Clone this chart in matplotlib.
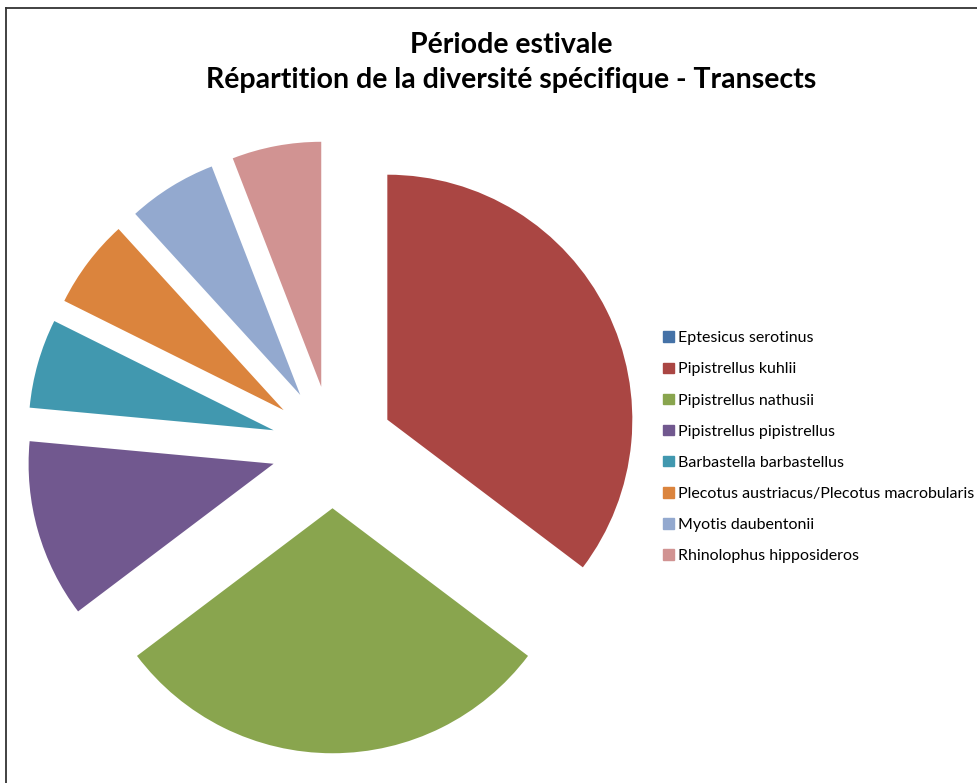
import matplotlib.pyplot as plt
from matplotlib.lines import Line2D

# Species and number of contacts
species = ['Eptesicus serotinus', 'Pipistrellus kuhlii', 'Pipistrellus nathusii',
           'Pipistrellus pipistrellus', 'Barbastella barbastellus',
           'Plecotus austriacus/Plecotus macrobularis', 'Myotis daubentonii',
           'Rhinolophus hipposideros']
counts = [0, 6, 5, 2, 1, 1, 1, 1]
colors = ['#4572A7', '#AA4643', '#89A54E', '#71588F', '#4198AF',
          '#DB843D', '#93A9CF', '#D19392']

W, H = 978, 783
fig = plt.figure(figsize=(W/100, H/100), dpi=100)

# pie axes: centre at (332.5, 447) px, radius 245 px
scale = 245.0
lim = 1.36
side = 2*lim*scale
cx, cy = 332.5, H - 447
ax = fig.add_axes([(cx - side/2)/W, (cy - side/2)/H, side/W, side/H])
wedges, _ = ax.pie(counts, colors=colors, startangle=90, counterclock=False,
                   explode=[0.25]*len(counts), radius=1.0,
                   wedgeprops=dict(linewidth=0))
ax.set_xlim(-lim, lim)
ax.set_ylim(-lim, lim)
ax.set_aspect('auto')
ax.axis('off')

# title
fig.text(511/W, 1 - 45/H, 'Période estivale', ha='center', va='center',
         fontsize=20.5, fontweight='bold', family='Lato')
fig.text(511/W, 1 - 80/H, 'Répartition de la diversité spécifique - Transects',
         ha='center', va='center', fontsize=20.5, fontweight='bold', family='Lato')

# legend
handles = [plt.Rectangle((0, 0), 1, 1, color=c) for c in colors]
leg = fig.legend(handles, species, loc='upper left',
                 bbox_to_anchor=(649/W, 1 - 317/H), frameon=False,
                 prop=dict(family='Lato', size=11.5), handlelength=0.65,
                 handleheight=0.65, handletextpad=0.25, labelspacing=1.07)

# chart area border (top and left edges visible)
fig.add_artist(Line2D([6.5/W, 6.5/W], [0, 1 - 8/H], color='#333333', lw=1.3))
fig.add_artist(Line2D([6.5/W, 1], [1 - 8/H, 1 - 8/H], color='#333333', lw=1.3))

fig.savefig('out.png', dpi=100)
